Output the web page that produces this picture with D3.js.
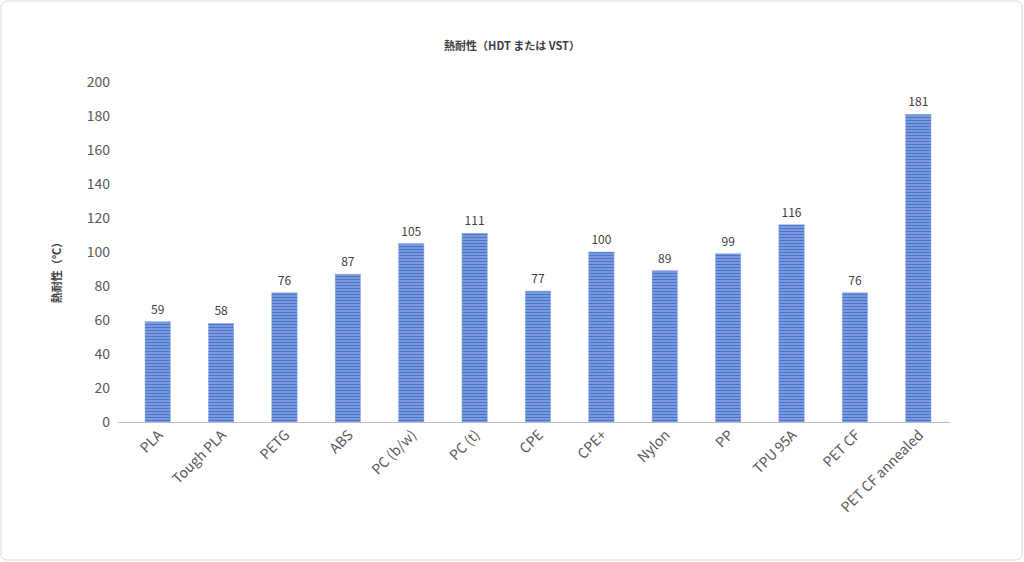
<html>
<body style="margin:0;background:#fff">
<svg id="plot"></svg>
<script src="https://d3js.org/d3.v7.min.js"></script>
<script>
var materials = ["PLA","Tough PLA","PETG","ABS","PC (b/w)","PC (t)","CPE","CPE+","Nylon","PP","TPU 95A","PET CF","PET CF annealed"]
var heatValues = [59,58,76,87,105,111,77,100,89,99,116,76,181]
var yTicks = [0,20,40,60,80,100,120,140,160,180,200]

var svg = d3.select("#plot").attr("width",1024).attr("height",562)
    .style("font-family","'Noto Sans CJK JP','Noto Sans',sans-serif")

svg.append("rect").attr("x",1).attr("y",1).attr("width",1021).attr("height",559)
    .attr("rx",6).attr("fill","#fff").attr("stroke","#d9d9d9")

//striped fill
var pat = svg.append("defs").append("pattern").attr("id","stripes")
    .attr("patternUnits","userSpaceOnUse").attr("width",4).attr("height",3)
pat.append("rect").attr("width",4).attr("height",3).attr("fill","#4a74cc")
pat.append("rect").attr("y",1.5).attr("width",4).attr("height",1).attr("fill","#a9c0ee")

var xScale = d3.scaleBand().domain(materials).range([126,950]).paddingInner(0.6).paddingOuter(0.3)
var yScale = d3.scaleLinear().domain([0,200]).range([422,82])

svg.append("line").attr("x1",118).attr("x2",950).attr("y1",422.5).attr("y2",422.5)
    .attr("stroke","#bfbfbf")

svg.append("g").selectAll("text").data(yTicks).enter().append("text")
    .attr("x",110).attr("y",function(d){return yScale(d)+5})
    .attr("text-anchor","end").attr("font-size",14).attr("fill","#595959")
    .text(function(d){return d})

svg.append("g").selectAll("rect").data(heatValues).enter().append("rect")
    .attr("x",function(d,i){return xScale(materials[i])})
    .attr("y",function(d){return yScale(d)})
    .attr("width",xScale.bandwidth())
    .attr("height",function(d){return yScale(0)-yScale(d)})
    .attr("fill","url(#stripes)").attr("stroke","#8fabe3").attr("stroke-width",0.5)

svg.append("g").selectAll("text").data(heatValues).enter().append("text")
    .attr("x",function(d,i){return xScale(materials[i])+xScale.bandwidth()/2})
    .attr("y",function(d){return yScale(d)-8})
    .attr("text-anchor","middle").attr("font-size",12).attr("fill","#404040")
    .text(function(d){return d})

svg.append("g").selectAll("text").data(materials).enter().append("text")
    .attr("transform",function(d){
        return "translate("+(xScale(d)+xScale.bandwidth()/2+6)+",436) rotate(-45)"})
    .attr("text-anchor","end").attr("font-size",14).attr("fill","#595959")
    .text(function(d){return d})

svg.append("text").attr("x",512).attr("y",50).attr("text-anchor","middle")
    .attr("font-size",11).attr("font-weight","bold").attr("fill","#404040")
    .text("熱耐性（HDT または VST）")

svg.append("text").attr("transform","translate(61,270) rotate(-90)")
    .attr("text-anchor","middle").attr("font-size",11).attr("font-weight","bold").attr("fill","#404040")
    .text("熱耐性（°C）")
</script>
</body>
</html>
